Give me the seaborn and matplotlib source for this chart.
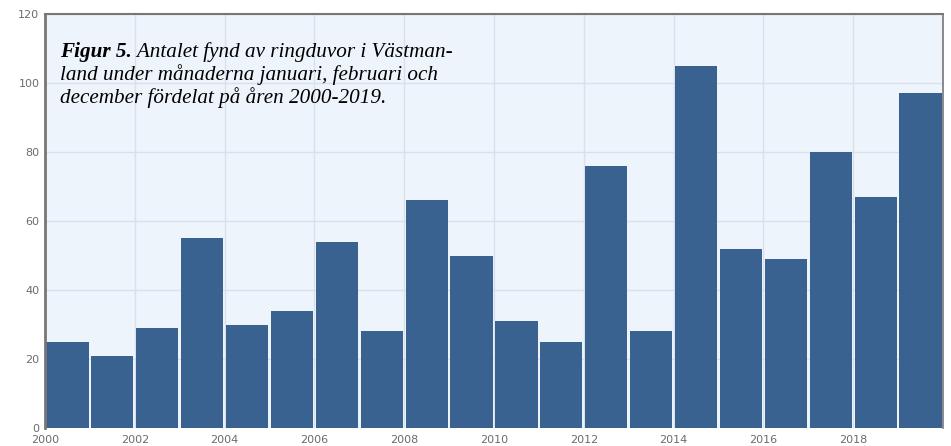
import numpy as np
import pandas as pd
import matplotlib.pyplot as plt
import seaborn as sns

# data
years = list(range(2000, 2020))
counts = [25, 21, 29, 55, 30, 34, 54, 28, 66, 50,
          31, 25, 76, 28, 105, 52, 49, 80, 67, 97]

df = pd.DataFrame({'year': years, 'count': counts})

caption_bold = 'Figur 5.'
caption_lines = [' Antalet fynd av ringduvor i Västman-',
                 'land under månaderna januari, februari och',
                 'december fördelat på åren 2000-2019.']

########## style ##########
sns.set_style('whitegrid')
plt.rcParams['font.family'] = ['DejaVu Sans']

bar_color = '#3a6290'
bg_color = '#eef4fb'
grid_color = '#d9e0ea'

fig = plt.figure(figsize=(9.51, 4.46), dpi=100)
ax = fig.add_axes([45/951, 1 - 428/446, 898/951, 414/446])
ax.set_facecolor(bg_color)

# one bin per year, weighted by count
sns.histplot(data=df, x='year', weights='count', binwidth=1, binrange=(2000, 2020),
             shrink=0.94, color=bar_color, alpha=1, edgecolor='none', ax=ax)

ax.set_xlim(2000, 2020)
ax.set_ylim(0, 120)
ax.set_xticks(np.arange(2000, 2020, 2))
ax.set_yticks(np.arange(0, 121, 20))
ax.set_xlabel('')
ax.set_ylabel('')
ax.grid(True, color=grid_color, linewidth=1)
ax.set_axisbelow(True)
ax.tick_params(axis='both', length=0, labelsize=8, labelcolor='#6b6b6b')
ax.tick_params(axis='x', pad=5)
ax.tick_params(axis='y', pad=4)

for side in ['left', 'top', 'right']:
    ax.spines[side].set_visible(True)
    ax.spines[side].set_color('#777777')
ax.spines['left'].set_linewidth(2)
ax.spines['top'].set_linewidth(1.5)
ax.spines['right'].set_linewidth(1.2)
ax.spines['bottom'].set_visible(False)

# caption inside the plot
serif = 'Liberation Serif'
fs = 15.2
x0 = 60/951
t0 = fig.text(x0, 1 - 57/446, caption_bold, family=serif, style='italic',
              weight='bold', fontsize=fs, va='baseline', color='black')
fig.canvas.draw()
bb = t0.get_window_extent()
fig.text(bb.x1 / fig.bbox.width, 1 - 57/446, caption_lines[0], family=serif,
         style='italic', fontsize=fs, va='baseline', color='black')
fig.text(x0, 1 - 80/446, caption_lines[1], family=serif, style='italic',
         fontsize=fs, va='baseline', color='black')
fig.text(x0, 1 - 103/446, caption_lines[2], family=serif, style='italic',
         fontsize=fs, va='baseline', color='black')

fig.savefig('out.png', dpi=100)
